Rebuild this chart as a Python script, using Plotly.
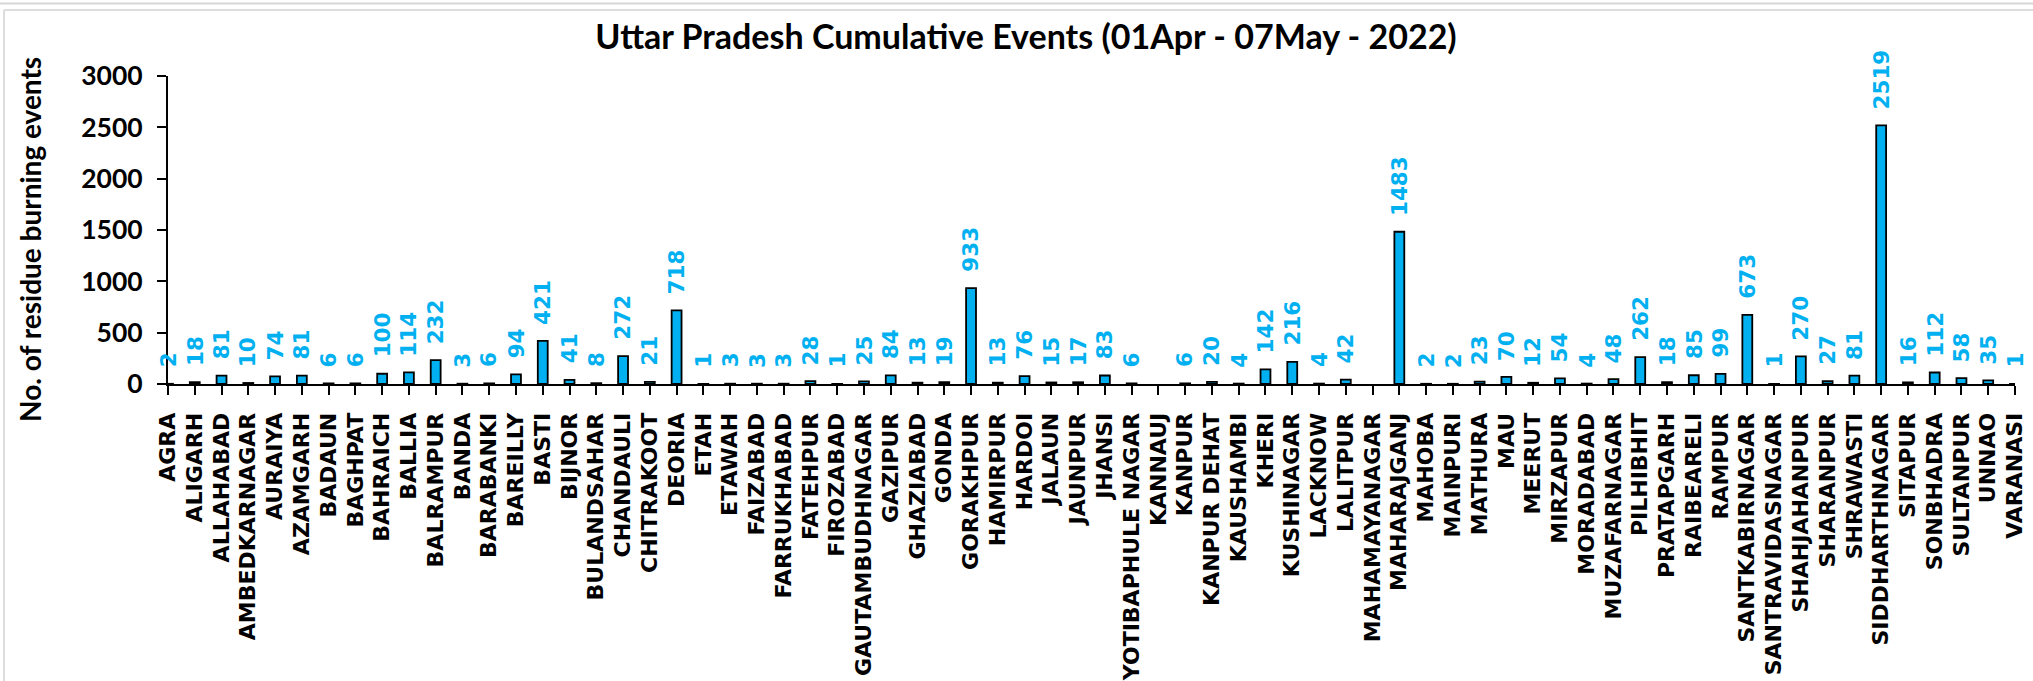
import plotly.graph_objects as go

districts = ["AGRA", "ALIGARH", "ALLAHABAD", "AMBEDKARNAGAR", "AURAIYA", "AZAMGARH", "BADAUN", "BAGHPAT",
             "BAHRAICH", "BALLIA", "BALRAMPUR", "BANDA", "BARABANKI", "BAREILLY", "BASTI", "BIJNOR",
             "BULANDSAHAR", "CHANDAULI", "CHITRAKOOT", "DEORIA", "ETAH", "ETAWAH", "FAIZABAD", "FARRUKHABAD",
             "FATEHPUR", "FIROZABAD", "GAUTAMBUDHNAGAR", "GAZIPUR", "GHAZIABAD", "GONDA", "GORAKHPUR",
             "HAMIRPUR", "HARDOI", "JALAUN", "JAUNPUR", "JHANSI", "JYOTIBAPHULE NAGAR", "KANNAUJ", "KANPUR",
             "KANPUR DEHAT", "KAUSHAMBI", "KHERI", "KUSHINAGAR", "LACKNOW", "LALITPUR", "MAHAMAYANAGAR",
             "MAHARAJGANJ", "MAHOBA", "MAINPURI", "MATHURA", "MAU", "MEERUT", "MIRZAPUR", "MORADABAD",
             "MUZAFARNAGAR", "PILHIBHIT", "PRATAPGARH", "RAIBEARELI", "RAMPUR", "SANTKABIRNAGAR",
             "SANTRAVIDASNAGAR", "SHAHJAHANPUR", "SHARANPUR", "SHRAWASTI", "SIDDHARTHNAGAR", "SITAPUR",
             "SONBHADRA", "SULTANPUR", "UNNAO", "VARANASI"]

events = [2, 18, 81, 10, 74, 81, 6, 6,
          100, 114, 232, 3, 6, 94, 421, 41,
          8, 272, 21, 718, 1, 3, 3, 3,
          28, 1, 25, 84, 13, 19, 933,
          13, 76, 15, 17, 83, 6, None, 6,
          20, 4, 142, 216, 4, 42, None,
          1483, 2, 2, 23, 70, 12, 54, 4,
          48, 262, 18, 85, 99, 673,
          1, 270, 27, 81, 2519, 16,
          112, 58, 35, 1]

y_ticks = [0, 500, 1000, 1500, 2000, 2500, 3000]

title_text = "Uttar Pradesh Cumulative Events (01Apr - 07May - 2022)"
y_title = "No. of residue burning events"

W, H = 2033, 681
L, R, T, B = 168, 18, 76, 297

fig = go.Figure()
fig.add_trace(go.Bar(
    x=districts, y=events,
    marker=dict(color="#00B0F0", line=dict(color="black", width=1.8)),
    hoverinfo="x+y",
))

annotations = []
for d, v in zip(districts, events):
    if v is None:
        continue
    annotations.append(dict(
        x=d, y=v, xref="x", yref="y", text=str(v), showarrow=False,
        textangle=-90, yanchor="bottom", xanchor="center", yshift=14,
        font=dict(family="DejaVu Sans", size=21.5, color="#00B0F0", weight="bold"),
    ))

annotations.append(dict(
    x=(30 - L) / (W - L - R), y=(H - B - 240) / (H - T - B), xref="paper", yref="paper",
    text=y_title, showarrow=False, textangle=-90, xanchor="center", yanchor="middle",
    font=dict(family="Lato", size=28, color="black", weight="bold"),
))

pw = W - L - R
ph = H - T - B
def px(xp):
    return (xp - L) / pw
def py(yp):
    return (H - B - yp) / ph

shapes = [
    dict(type="line", xref="paper", yref="paper", x0=px(0), x1=px(W), y0=py(3.5), y1=py(3.5),
         line=dict(color="#D6D6D6", width=2)),
    dict(type="line", xref="paper", yref="paper", x0=px(4), x1=px(W), y0=py(10), y1=py(10),
         line=dict(color="#DDDDDD", width=2)),
    dict(type="line", xref="paper", yref="paper", x0=px(4), x1=px(4), y0=py(10), y1=py(H),
         line=dict(color="#DDDDDD", width=2)),
]

fig.update_layout(
    width=W, height=H,
    margin=dict(l=L, r=R, t=T, b=B, autoexpand=False),
    paper_bgcolor="white", plot_bgcolor="white",
    bargap=0.63,
    showlegend=False,
    title=dict(text=title_text, x=1026 / W, xanchor="center", xref="container",
               y=1 - 37 / H, yanchor="middle", yref="container",
               font=dict(family="Lato", size=34, color="black", weight="bold")),
    annotations=annotations,
    shapes=shapes,
    xaxis=dict(type="category", range=[0, len(districts) - 1], showline=True, linecolor="black",
               linewidth=2, ticks="outside", ticklen=9, tickwidth=2, tickcolor="black",
               tickmode="array", tickvals=districts, ticktext=districts,
               tickangle=-90, automargin=False, showgrid=False, zeroline=False,
               tickfont=dict(family="DejaVu Sans", size=22, color="black", weight="bold"),
               ticklabelstandoff=9),
    yaxis=dict(range=[0, 3000], tickvals=y_ticks, showline=True, linecolor="black", linewidth=2,
               ticks="outside", ticklen=9, tickwidth=2, tickcolor="black", showgrid=False,
               zeroline=False, automargin=False,
               tickfont=dict(family="Lato", size=26.5, color="black", weight="bold"),
               ticklabelstandoff=9),
)

fig.write_html("out.html", config={"displayModeBar": False},
               post_script="document.body.style.margin='0';document.body.style.overflow='hidden';")
